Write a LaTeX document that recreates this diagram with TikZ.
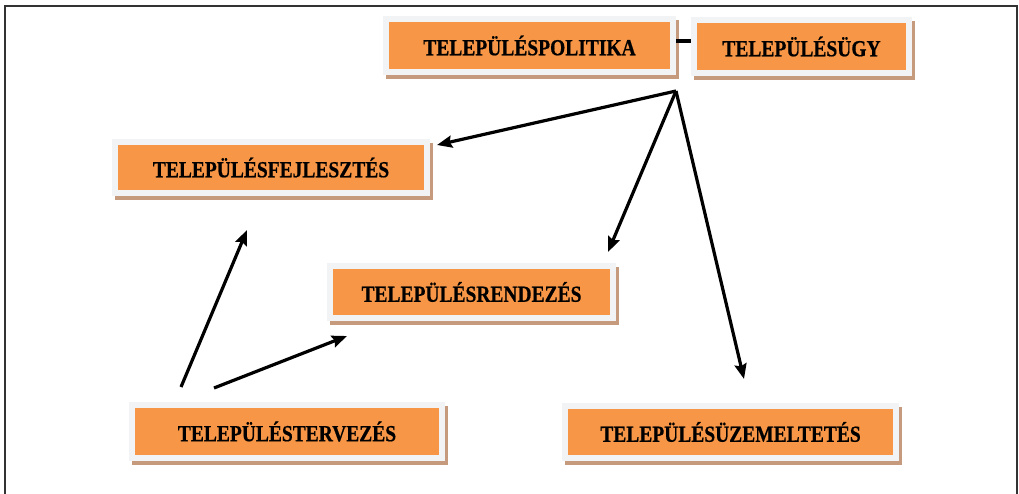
\documentclass[tikz,border=0pt]{standalone}
\usepackage{fontspec}
\setmainfont{Liberation Serif}[BoldFeatures={FakeBold=0.6}]
\usetikzlibrary{arrows.meta,calc}

\definecolor{boxfill}{HTML}{F79646}
\definecolor{boxrim}{HTML}{F2F3F5}
\definecolor{boxshade}{HTML}{C69A7D}
\definecolor{pagerule}{HTML}{333333}

\newcommand{\boxlabel}[1]{\scalebox{1}[1.18]{#1}}

\tikzset{
  tbox/.style={
    fill=boxfill, draw=boxrim, line width=6pt,
    inner sep=0pt, font=\fontsize{19.5}{22}\selectfont\bfseries,
    preaction={draw=boxshade, fill=boxshade, line width=6pt,
      transform canvas={xshift=3pt, yshift=-4pt}}
  },
  link/.style={line width=3.2pt, black},
  arr/.style={link, -{Stealth[length=15pt, width=12pt, inset=2pt]}}
}

\begin{document}
\begin{tikzpicture}[x=1pt, y=-1pt]
  \useasboundingbox (0,0) rectangle (1019,494);

  % page rule: left, top and right edges
  \draw[pagerule, line width=2pt] (5,500) -- (5,6) -- (1017,6) -- (1017,500);

  % boxes
  \node[tbox, minimum width=287pt, minimum height=53pt] (pol) at (529.5,45.5) {\boxlabel{TELEPÜLÉSPOLITIKA}};
  \node[tbox, minimum width=215pt, minimum height=53pt] (ugy) at (801.5,46.5) {\boxlabel{TELEPÜLÉSÜGY}};
  \node[tbox, minimum width=312pt, minimum height=51pt] (fej) at (271,167.5) {\boxlabel{TELEPÜLÉSFEJLESZTÉS}};
  \node[tbox, minimum width=283pt, minimum height=52pt] (ren) at (471.5,292) {\boxlabel{TELEPÜLÉSRENDEZÉS}};
  \node[tbox, minimum width=310pt, minimum height=53pt] (ter) at (287,431.5) {\boxlabel{TELEPÜLÉSTERVEZÉS}};
  \node[tbox, minimum width=331pt, minimum height=52pt] (uze) at (730.5,432) {\boxlabel{TELEPÜLÉSÜZEMELTETÉS}};

  % short link between the two top boxes
  \draw[link] ([yshift=4.5pt]pol.east) -- ([yshift=5.5pt]ugy.west);

  % branch point and arrow ends
  \coordinate (hub) at (676,91);
  \coordinate (tfej) at (437,145);
  \coordinate (tren) at (608,252);
  \coordinate (tuze) at (744,379);
  \coordinate (sa) at (181,387);
  \coordinate (ta) at (247,230);
  \coordinate (sb) at (214,388);
  \coordinate (tb) at (347,336);

  \draw[arr] (hub) -- (tfej);
  \draw[arr] (hub) -- (tren);
  \draw[arr] (hub) -- (tuze);
  \draw[arr] (sa) -- (ta);
  \draw[arr] (sb) -- (tb);
\end{tikzpicture}
\end{document}
